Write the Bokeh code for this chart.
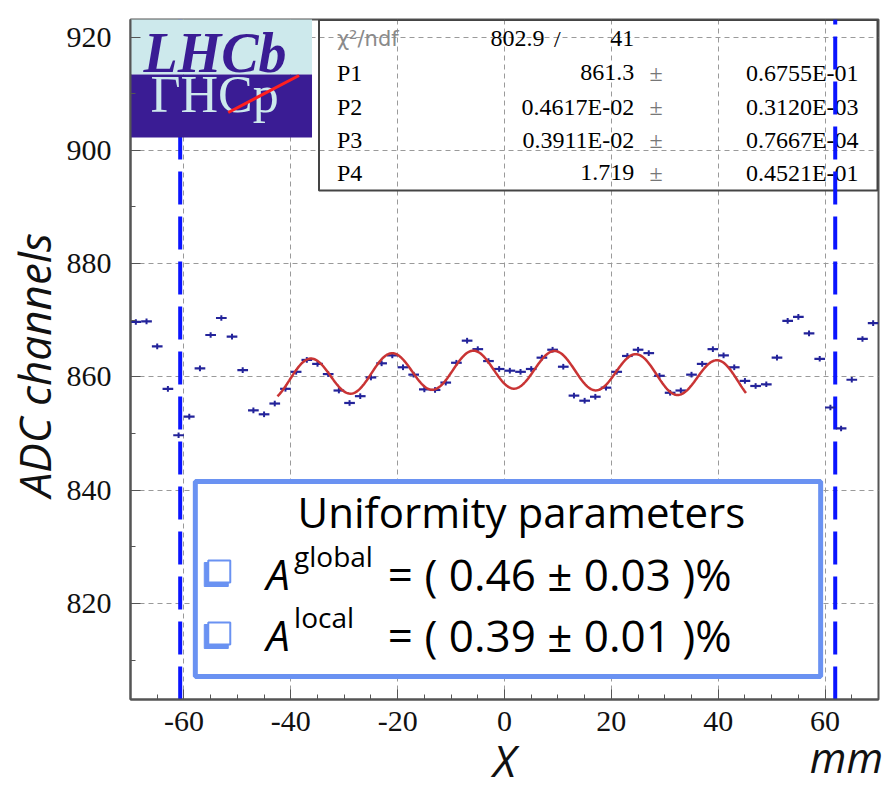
import numpy as np
from bokeh.plotting import figure
from bokeh.models import FixedTicker, LinearAxis
from bokeh.core.properties import value
from bokeh.embed import file_html
from bokeh.resources import INLINE

# ---- data: mean ADC response in 2 mm bins across the module ----
x_mm = list(range(-69, 70, 2))
adc = [869.7, 869.8, 865.4, 857.9, 849.7, 853.0, 861.5, 867.4, 870.4, 867.1,
       861.2, 854.1, 853.4, 855.3, 857.9, 860.9, 863.0, 862.3, 860.5, 857.6,
       855.4, 856.6, 859.9, 862.4, 863.8, 861.7, 860.4, 857.8, 857.7, 859.0,
       862.5, 866.4, 864.9, 862.8, 861.4,
       861.1, 860.9, 861.4, 863.4, 864.8, 861.8, 856.7, 855.8, 856.5, 858.1,
       860.9, 863.7, 864.8, 864.2, 860.2, 857.2, 857.6, 860.4, 862.3, 864.9,
       863.8, 861.7, 859.3, 858.4, 858.7, 863.4, 869.9, 870.6, 867.7, 863.2,
       854.6, 850.9, 859.5, 866.7, 869.5]
bin_half = 1.0
adc_err = 0.5

# ---- fit result ----
chi2, ndf = 802.9, 41
P1, P1_err = 861.3, 0.6755e-01
P2, P2_err = 0.4617e-02, 0.3120e-03
P3, P3_err = 0.3911e-02, 0.7667e-04
P4, P4_err = 1.719, 0.4521e-01
fit_range = (-42.5, 45.2)
cell_pitch = 15.25      # mm, period of the local modulation
peak_pos = -5.85        # mm, position of the central maximum
half_width = 60.6       # mm, module half width

# module edges marked on the scan
edges = [-60.7, 61.9]

x_ticks = [-60, -40, -20, 0, 20, 40, 60]
y_ticks = [820, 840, 860, 880, 900, 920]
unit_pos = 64.0

X0, X1 = -70.0, 70.0
Y0, Y1 = 803.05, 923.1
FL, FR, FT, FB = 128, 878, 19, 699


def dx(px):
    return X0 + (px - FL) * (X1 - X0) / (FR - FL)


def dy(py):
    return Y1 - (py - FT) * (Y1 - Y0) / (FB - FT)


p = figure(width=886, height=792, x_range=(X0, X1), y_range=(Y0, Y1),
           output_backend="svg", toolbar_location=None,
           min_border_left=FL, min_border_right=886 - FR,
           min_border_top=FT, min_border_bottom=792 - FB)
p.background_fill_color = "white"
p.border_fill_color = "white"
p.outline_line_color = "#555555"
p.outline_line_width = 2

xt = FixedTicker(ticks=x_ticks, minor_ticks=list(range(-70, 71, 5)))
yt = FixedTicker(ticks=y_ticks, minor_ticks=list(range(800, 930, 10)))
xax = p.below[0]
yax = p.left[0]
xax.ticker = xt
yax.ticker = yt
for ax in (xax, yax):
    ax.axis_line_color = "#555555"
    ax.axis_line_width = 2
    ax.major_tick_line_color = "#555555"
    ax.minor_tick_line_color = "#555555"
    ax.major_tick_in = 10
    ax.major_tick_out = 0
    ax.minor_tick_in = 5
    ax.minor_tick_out = 0
    ax.major_label_text_font = "Liberation Serif"
    ax.major_label_text_font_size = "30px"
    ax.major_label_text_color = "#111111"
xax.major_label_standoff = 12
xax.major_label_overrides = {t: str(t) for t in x_ticks}
yax.major_label_standoff = 19

yax.axis_label = "ADC  channels"
yax.axis_label_text_font = "Open Sans"
yax.axis_label_text_font_style = "italic"
yax.axis_label_text_font_size = "44px"
yax.axis_label_text_color = "#111111"
yax.axis_label_standoff = 0

# second axis below: unit label and axis title share one row
unit_axis = LinearAxis(ticker=FixedTicker(ticks=[unit_pos]),
                       major_label_overrides={unit_pos: "mm"},
                       axis_line_color=None, major_tick_line_color=None,
                       minor_tick_line_color=None,
                       major_label_standoff=-12,
                       major_label_text_font="Open Sans",
                       major_label_text_font_style="italic",
                       major_label_text_font_size="42px",
                       major_label_text_color="#111111",
                       axis_label="X", axis_label_standoff=-58,
                       axis_label_text_font="Open Sans",
                       axis_label_text_font_style="italic",
                       axis_label_text_font_size="44px",
                       axis_label_text_color="#111111")
p.add_layout(unit_axis, "below")

for g in (p.xgrid, p.ygrid):
    g.grid_line_color = "#9a9a9a"
    g.grid_line_dash = "5 4"
    g.grid_line_width = 1
p.xgrid.ticker = xt
p.ygrid.ticker = yt

# ---- statistics box (transparent, grid shows through) ----
serif = value("Liberation Serif")
p.quad(left=[dx(317)], right=[dx(877)], top=[dy(19.5)], bottom=[dy(190)],
       fill_alpha=0, line_color="#444444", line_width=2)
p.text(x=[dx(335)], y=[dy(38)], text=["χ²/ndf"], text_font=value("DejaVu Sans"),
       text_font_size="21px", text_color="#8a8a8a", text_baseline="middle")
p.text(x=[dx(543)], y=[dy(38)], text=[f"{chi2:.1f}"], text_font=serif,
       text_font_size="24px", text_align="right", text_baseline="middle")
p.text(x=[dx(556)], y=[dy(38)], text=["/"], text_font=serif,
       text_font_size="24px", text_align="center", text_baseline="middle")
p.text(x=[dx(633)], y=[dy(38)], text=[f"{ndf}"], text_font=serif,
       text_font_size="24px", text_align="right", text_baseline="middle")

rows = [("P1", f"{P1:.1f}", "0.6755E-01"),
        ("P2", "0.4617E-02", "0.3120E-03"),
        ("P3", "0.3911E-02", "0.7667E-04"),
        ("P4", f"{P4:.3f}", "0.4521E-01")]
row_py = [72, 106, 139, 172]
for (name, val, err), py in zip(rows, row_py):
    p.text(x=[dx(335)], y=[dy(py)], text=[name], text_font=serif,
           text_font_size="24px", text_baseline="middle")
    p.text(x=[dx(633)], y=[dy(py)], text=[val], text_font=serif,
           text_font_size="24px", text_align="right", text_baseline="middle")
    p.text(x=[dx(655)], y=[dy(py)], text=["±"], text_font=serif,
           text_font_size="24px", text_align="center", text_baseline="middle",
           text_color="#777777")
    p.text(x=[dx(858)], y=[dy(py)], text=[err], text_font=serif,
           text_font_size="24px", text_align="right", text_baseline="middle")

# ---- module edge markers ----
p.segment(x0=edges, y0=[Y0] * 2, x1=edges, y1=[Y1] * 2,
          line_color="#0a14ff", line_width=4, line_dash="33 12")

# ---- data points with error bars ----
xs = np.array(x_mm, dtype=float)
ys = np.array(adc)
col = "#23239a"
p.segment(x0=xs - bin_half, y0=ys, x1=xs + bin_half, y1=ys,
          line_color=col, line_width=2.2)
p.segment(x0=xs, y0=ys - adc_err, x1=xs, y1=ys + adc_err,
          line_color=col, line_width=2)

# ---- fitted response ----
xf = np.linspace(fit_range[0], fit_range[1], 400)
fit = P1 * (1 - P2 * (xf / half_width) ** 2) * \
    (1 + P3 * np.cos(2 * np.pi * (xf - peak_pos) / cell_pitch))
p.line(xf, fit, line_color="#c93434", line_width=2.5)

# ---- LHCb logo ----
p.quad(left=[dx(128)], right=[dx(310)], top=[dy(10)], bottom=[dy(74)],
       fill_color="#cde9ec", line_color=None)
p.quad(left=[dx(128)], right=[dx(310)], top=[dy(74)], bottom=[dy(137)],
       fill_color="#3a1c94", line_color=None)
p.text(x=[dx(141)], y=[dy(52)], text=["LHCb"], text_font=serif,
       text_font_style="bold italic", text_font_size="56px",
       text_color="#3a1c94", text_baseline="middle")
p.text(x=[dx(148)], y=[dy(94)], text=["ΓHCp"], text_font=serif,
       text_font_size="52px",
       text_color="#cde9ec", text_baseline="middle")
p.segment(x0=[dx(226)], y0=[dy(112)], x1=[dx(297)], y1=[dy(75)],
          line_color="#ff1f1f", line_width=3)

# ---- uniformity summary box ----
blue = "#6a92f2"
p.quad(left=[dx(193)], right=[dx(820)], top=[dy(481)], bottom=[dy(676)],
       fill_color="white", line_color=blue, line_width=5)
sans = value("Open Sans")
p.text(x=[dx(520)], y=[dy(511)], text=["Uniformity parameters"], text_font=sans,
       text_font_size="42px", text_align="center", text_baseline="middle")
for py in (571, 633):
    p.rect(x=[dx(214)], y=[dy(py + 3)], width=24, height=24,
           width_units="screen", height_units="screen",
           fill_color=blue, line_color=blue)
    p.rect(x=[dx(217)], y=[dy(py)], width=22, height=22,
           width_units="screen", height_units="screen",
           fill_color="white", line_color=blue, line_width=2)
for py, sup, val in ((573, "global", "= ( 0.46 ± 0.03 )%"),
                     (634, "local", "= ( 0.39 ± 0.01 )%")):
    p.text(x=[dx(264)], y=[dy(py)], text=["A"], text_font=sans,
           text_font_style="italic", text_font_size="42px",
           text_baseline="middle")
    p.text(x=[dx(292)], y=[dy(py - 18)], text=[sup], text_font=sans,
           text_font_size="28px", text_baseline="middle")
    p.text(x=[dx(386)], y=[dy(py)], text=[val], text_font=sans,
           text_font_size="44px", text_baseline="middle")

open("out.html", "w").write(file_html(p, INLINE))
